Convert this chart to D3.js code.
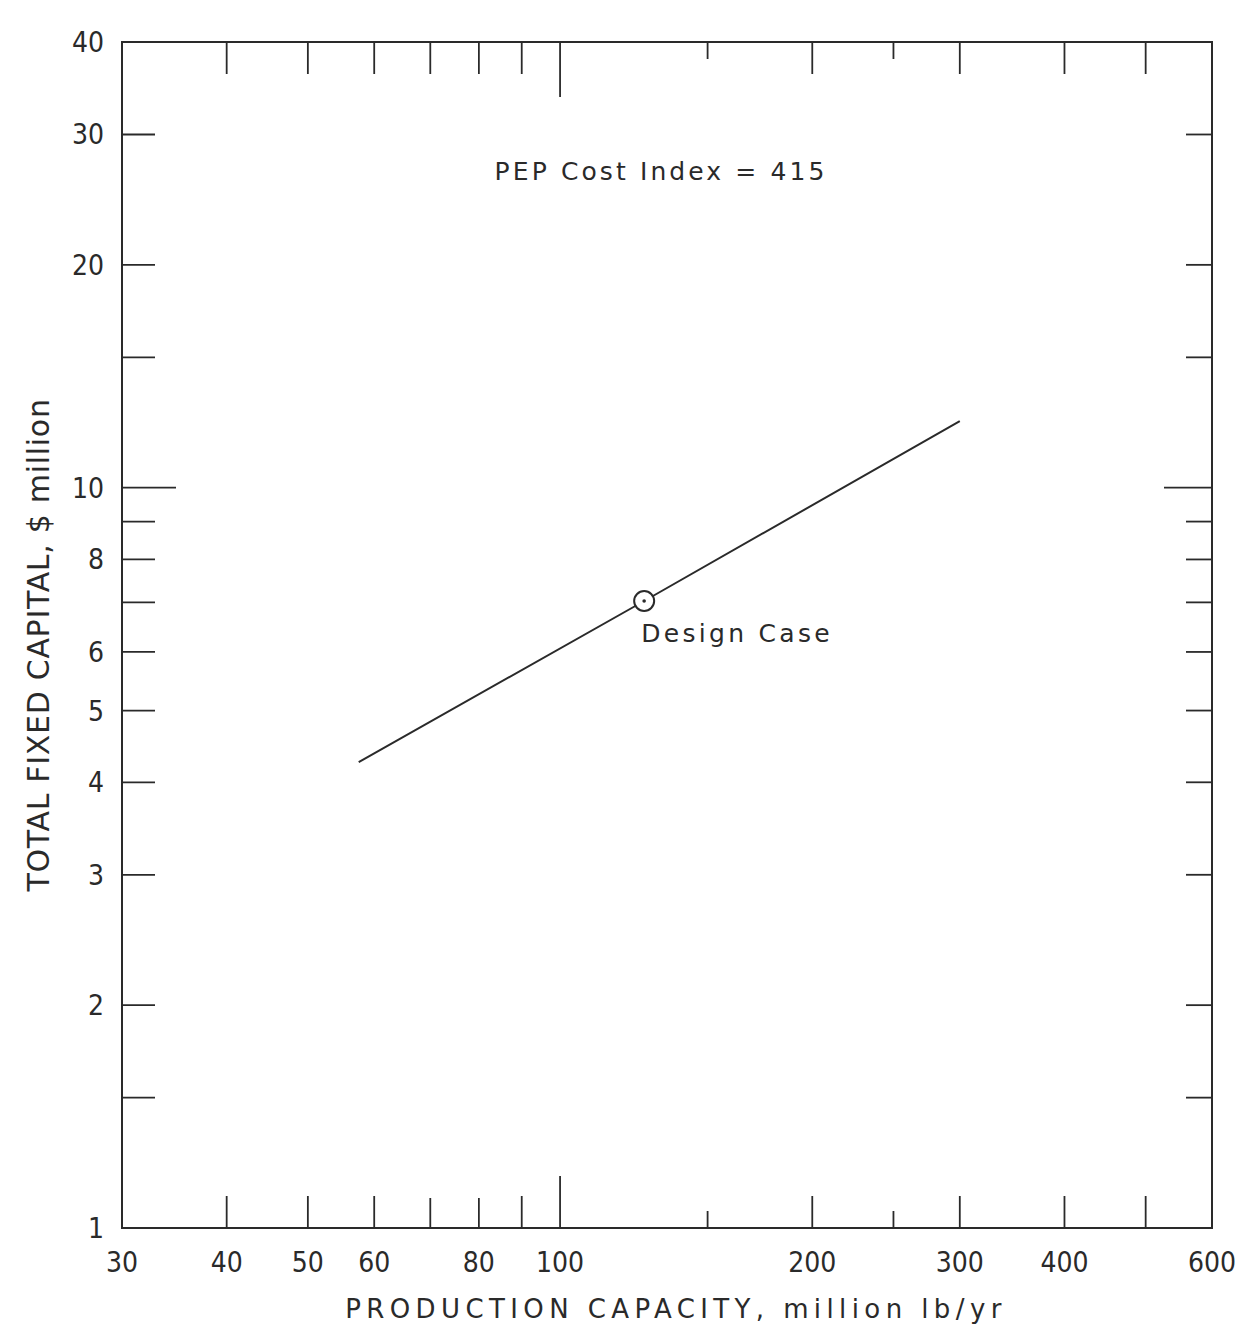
<!DOCTYPE html>
<html>
<head>
<meta charset="utf-8">
<script src="https://cdn.jsdelivr.net/npm/d3@7"></script>
<style>
  html, body { margin: 0; padding: 0; background: #fff; }
  svg { display: block; }
  text { font-family: "DejaVu Sans", sans-serif; fill: #2a2a2a; }
  text.tick { font-family: "DejaVu Sans Condensed", "DejaVu Sans", sans-serif; }
</style>
</head>
<body>
<svg id="chart" width="1246" height="1334"></svg>
<script>
// ---- data ----
const xDomain = [30, 600];
const yDomain = [1, 40];
const xTickLabels = [30, 40, 50, 60, 80, 100, 200, 300, 400, 600];
const yTickLabels = [1, 2, 3, 4, 5, 6, 8, 10, 20, 30, 40];
// tick marks (value, kind)
const xTicksBottom = [[40,"m"],[50,"m"],[60,"m"],[70,"s"],[80,"s"],[90,"m"],[100,"l"],[150,"t"],[200,"m"],[250,"t"],[300,"m"],[400,"m"],[500,"m"]];
const xTicksTop    = [[40,"m"],[50,"m"],[60,"m"],[70,"m"],[80,"m"],[90,"m"],[100,"l"],[150,"t"],[200,"m"],[250,"t"],[300,"m"],[400,"m"],[500,"m"]];
const yTicksLeft  = [[1.5,"m"],[2,"m"],[3,"m"],[4,"m"],[5,"m"],[6,"m"],[7,"m"],[8,"m"],[9,"m"],[10,"l"],[15,"m"],[20,"m"],[30,"m"]];
const yTicksRight = [[1.5,"m"],[2,"m"],[3,"m"],[4,"m"],[5,"m"],[6,"m"],[7,"m"],[8,"m"],[9,"m"],[10,"l"],[15,"m"],[20,"m"],[30,"m"]];
const capacity = [57.5, 126, 300];      // million lb/yr
const capital  = [4.26, 7.03, 12.3];    // $ million
const designCase = { x: 126, y: 7.03, label: "Design Case" };
const annotation = "PEP Cost Index = 415";
const xTitle = "PRODUCTION CAPACITY, million lb/yr";
const yTitle = "TOTAL FIXED CAPITAL, $ million";

// ---- layout ----
const L = 122, R = 1212, T = 42, B = 1228;
const svg = d3.select("#chart");
const x = d3.scaleLog().domain(xDomain).range([L, R]);
const y = d3.scaleLog().domain(yDomain).range([B, T]);
const ink = "#2a2a2a";

const lenX = { s: 30, m: 32, l: 52, t: 17 };
const lenY = { m: 33, l: 54 };
const lenYR = { m: 26, l: 48 };

// frame
svg.append("rect").attr("x", L).attr("y", T).attr("width", R - L).attr("height", B - T)
  .attr("fill", "none").attr("stroke", ink).attr("stroke-width", 2);

const g = svg.append("g").attr("stroke", ink).attr("stroke-width", 1.8);
g.selectAll(".tb").data(xTicksBottom).join("line")
  .attr("x1", d => x(d[0])).attr("x2", d => x(d[0]))
  .attr("y1", B).attr("y2", d => B - lenX[d[1]]);
g.selectAll(".tt").data(xTicksTop).join("line")
  .attr("x1", d => x(d[0])).attr("x2", d => x(d[0]))
  .attr("y1", T).attr("y2", d => T + lenX[d[1]] + (d[1] === "l" ? 3 : 0));
g.selectAll(".tl").data(yTicksLeft).join("line")
  .attr("y1", d => y(d[0])).attr("y2", d => y(d[0]))
  .attr("x1", L).attr("x2", d => L + lenY[d[1]]);
g.selectAll(".tr").data(yTicksRight).join("line")
  .attr("y1", d => y(d[0])).attr("y2", d => y(d[0]))
  .attr("x1", R).attr("x2", d => R - lenYR[d[1]]);

// tick labels
svg.append("g").selectAll("text").data(xTickLabels).join("text")
  .attr("class", "tick")
  .attr("x", d => x(d)).attr("y", 1272)
  .attr("text-anchor", "middle").attr("font-size", 28)
  .text(d => d);
svg.append("g").selectAll("text").data(yTickLabels).join("text")
  .attr("class", "tick")
  .attr("x", 104).attr("y", d => y(d) + 10)
  .attr("text-anchor", "end").attr("font-size", 28)
  .text(d => d);

// titles
svg.append("text").attr("x", 676).attr("y", 1318).attr("text-anchor", "middle")
  .attr("font-size", 26).attr("letter-spacing", 5.4).text(xTitle);
svg.append("text").attr("transform", "translate(49,645) rotate(-90)").attr("text-anchor", "middle")
  .attr("font-size", 30).attr("letter-spacing", 0.7).text(yTitle);

// annotation
svg.append("text").attr("x", 661).attr("y", 180).attr("text-anchor", "middle")
  .attr("font-size", 25).attr("letter-spacing", 3.1).text(annotation);

// line
const pts = capacity.map((c, i) => [c, capital[i]]);
svg.append("path").datum(pts)
  .attr("d", d3.line().x(d => x(d[0])).y(d => y(d[1])))
  .attr("fill", "none").attr("stroke", ink).attr("stroke-width", 2);

// design case marker
svg.append("circle").attr("cx", x(designCase.x)).attr("cy", y(designCase.y)).attr("r", 10)
  .attr("fill", "#fff").attr("stroke", ink).attr("stroke-width", 2);
svg.append("circle").attr("cx", x(designCase.x)).attr("cy", y(designCase.y)).attr("r", 1.8)
  .attr("fill", ink);
svg.append("text").attr("x", x(designCase.x) - 3).attr("y", y(designCase.y) + 41)
  .attr("font-size", 25).attr("letter-spacing", 3.3).text(designCase.label);
</script>
</body>
</html>
